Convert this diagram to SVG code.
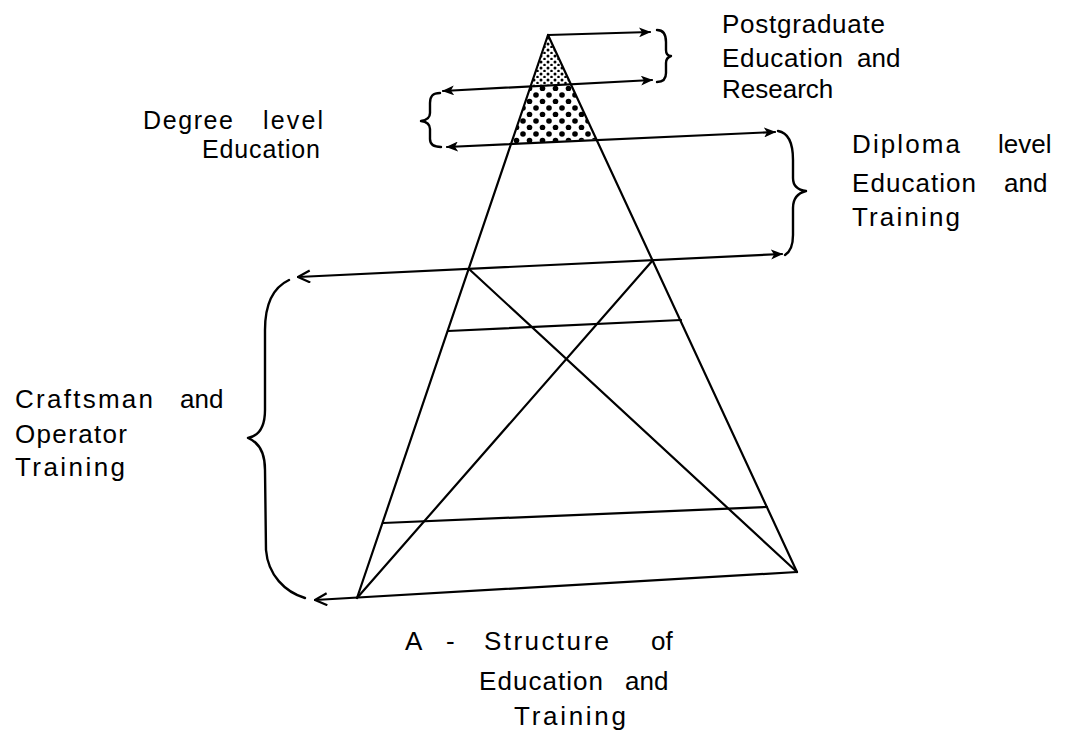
<svg xmlns="http://www.w3.org/2000/svg" width="1068" height="735" viewBox="0 0 1068 735">
<defs>
<style>
.ln{stroke:#000;stroke-width:2.2;fill:none;stroke-linecap:round}
.br{stroke:#000;stroke-width:2.4;fill:none;stroke-linecap:round;stroke-linejoin:round}
.t{font-family:"Liberation Sans",Arial,sans-serif;font-size:26px;fill:#000}
.s{font-size:25px}
</style>
<marker id="ah" viewBox="0 0 12 10" refX="11" refY="5" markerWidth="12" markerHeight="10" markerUnits="userSpaceOnUse" orient="auto-start-reverse">
<path d="M0,0 L12,5 L0,10 L3,5 Z" fill="#000"/>
</marker>
<marker id="ao" viewBox="0 0 14 14" refX="13" refY="7" markerWidth="14" markerHeight="14" markerUnits="userSpaceOnUse" orient="auto-start-reverse">
<path d="M1,1 L13,7 L1,13" fill="none" stroke="#000" stroke-width="2.2"/>
</marker>
<pattern id="fine" width="7" height="6" patternUnits="userSpaceOnUse">
<circle cx="2" cy="2" r="1.5" fill="#000"/>
<circle cx="5.5" cy="5" r="1.3" fill="#000"/>
</pattern>
<pattern id="big" width="13" height="13" patternUnits="userSpaceOnUse">
<circle cx="3" cy="4" r="2.8" fill="#000"/>
<circle cx="9.5" cy="10.5" r="2.8" fill="#000"/>
</pattern>
</defs>
<rect width="1068" height="735" fill="#fff"/>

<g id="pyramid">
<polygon points="548,35 571,84 531,86" fill="url(#fine)"/>
<polygon points="531,86 571,84 596,139 511,144" fill="url(#big)"/>
<line class="ln" x1="548" y1="35" x2="357" y2="598"/>
<line class="ln" x1="548" y1="35" x2="797" y2="572"/>
<line class="ln" x1="448" y1="331" x2="681" y2="320"/>
<line class="ln" x1="383" y1="523" x2="767" y2="507"/>
<line class="ln" x1="357" y1="598" x2="653" y2="260"/>
<line class="ln" x1="469" y1="269" x2="797" y2="572"/>
</g>

<g id="connectors">
<line class="ln" x1="548" y1="35" x2="650" y2="32" marker-end="url(#ah)"/>
<line class="ln" x1="443" y1="91" x2="652" y2="80" marker-start="url(#ah)" marker-end="url(#ah)"/>
<line class="ln" x1="447" y1="147" x2="775" y2="132" marker-start="url(#ah)" marker-end="url(#ah)"/>
<line class="ln" x1="298" y1="277" x2="782" y2="254" marker-start="url(#ao)" marker-end="url(#ah)"/>
<line class="ln" x1="797" y1="572" x2="315" y2="600" marker-end="url(#ao)"/>
</g>

<g id="brace-postgraduate">
<path class="br" d="M657,30 C664,30 666,35 666,42 L666,50 C666,54 668,56 671,56 C668,57 666,59 666,63 L666,73 C666,79 663,82 657,82"/>
</g>
<g id="brace-degree">
<path class="br" d="M440,93 C432,93 430,97 430,103 L430,113 C430,117 428,120 421,121 C428,122 430,125 430,129 L430,139 C430,145 434,147 441,147"/>
</g>
<g id="brace-diploma">
<path class="br" d="M778,131 C790,133 793,145 793,160 L793,178 C793,186 798,190 806,191 C798,193 793,198 793,208 L793,235 C793,246 790,252 785,255"/>
</g>
<g id="brace-craftsman">
<path class="br" d="M289,280 C272,288 265,305 265,330 L265,410 C265,428 258,436 248,438 C258,442 265,452 265,470 L266,550 C268,575 285,592 305,598"/>
</g>

<g id="label-postgraduate">
<text class="t" y="33"><tspan x="722" textLength="163" lengthAdjust="spacing">Postgraduate</tspan></text>
<text class="t" y="67"><tspan x="722" textLength="121" lengthAdjust="spacing">Education</tspan> <tspan x="857">and</tspan></text>
<text class="t" y="98"><tspan x="722">Research</tspan></text>
</g>
<g id="label-degree">
<text class="t s" y="129"><tspan x="143" textLength="90" lengthAdjust="spacing">Degree</tspan> <tspan x="263" textLength="60" lengthAdjust="spacing">level</tspan></text>
<text class="t s" y="158"><tspan x="202" textLength="118" lengthAdjust="spacing">Education</tspan></text>
</g>
<g id="label-diploma">
<text class="t" y="153"><tspan x="852" textLength="108" lengthAdjust="spacing">Diploma</tspan> <tspan x="998">level</tspan></text>
<text class="t" y="192"><tspan x="852" textLength="124" lengthAdjust="spacing">Education</tspan> <tspan x="1004">and</tspan></text>
<text class="t" y="226"><tspan x="852" textLength="108" lengthAdjust="spacing">Training</tspan></text>
</g>
<g id="label-craftsman">
<text class="t" y="408"><tspan x="15" textLength="138" lengthAdjust="spacing">Craftsman</tspan> <tspan x="180">and</tspan></text>
<text class="t" y="443"><tspan x="15" textLength="112" lengthAdjust="spacing">Operator</tspan></text>
<text class="t" y="476"><tspan x="15" textLength="110" lengthAdjust="spacing">Training</tspan></text>
</g>
<g id="title">
<text class="t" y="650"><tspan x="405">A</tspan> <tspan x="446">-</tspan> <tspan x="484" textLength="125" lengthAdjust="spacing">Structure</tspan> <tspan x="651">of</tspan></text>
<text class="t" y="690"><tspan x="479" textLength="124" lengthAdjust="spacing">Education</tspan> <tspan x="625">and</tspan></text>
<text class="t" y="725"><tspan x="514" textLength="112" lengthAdjust="spacing">Training</tspan></text>
</g>
</svg>
